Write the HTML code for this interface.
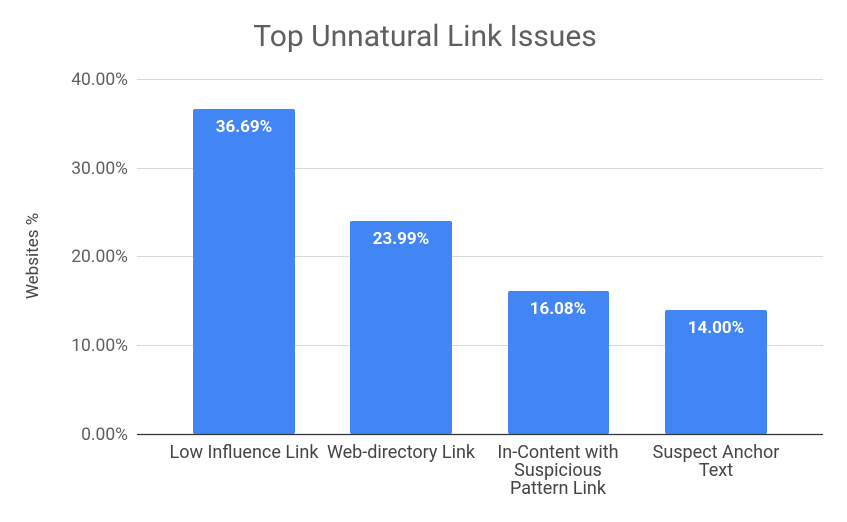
<!DOCTYPE html>
<html><head><meta charset="utf-8"><style>
body{margin:0;background:#fff;}
svg text{font-family:"Roboto","Liberation Sans",sans-serif;}
</style></head><body>
<svg width="847" height="517" xmlns="http://www.w3.org/2000/svg">
<rect width="847" height="517" fill="#fff"/>
<text x="425" y="46" font-size="30" fill="#5f5f5f" text-anchor="middle">Top Unnatural Link Issues</text>
<g stroke="#d9d9d9" stroke-width="1">
<line x1="137" y1="79.5" x2="823" y2="79.5"/>
<line x1="137" y1="168.5" x2="823" y2="168.5"/>
<line x1="137" y1="256.5" x2="823" y2="256.5"/>
<line x1="137" y1="345.5" x2="823" y2="345.5"/>
</g>
<g font-size="17.5" fill="#5f5f5f" text-anchor="end">
<text x="128" y="85">40.00%</text>
<text x="128" y="174">30.00%</text>
<text x="128" y="262">20.00%</text>
<text x="128" y="351">10.00%</text>
<text x="128" y="440">0.00%</text>
</g>
<text transform="translate(38,256) rotate(-90)" font-size="17" fill="#444" text-anchor="middle">Websites %</text>
<g fill="#4285f4">
<rect x="193" y="109" width="102" height="325" rx="2"/>
<rect x="350" y="221" width="102" height="213" rx="2"/>
<rect x="508" y="291" width="101" height="143" rx="2"/>
<rect x="665" y="310" width="102" height="124" rx="2"/>
</g>
<line x1="137" y1="434.5" x2="823" y2="434.5" stroke="#333" stroke-width="1.2"/>
<g font-size="17" fill="#fff" font-weight="bold" text-anchor="middle">
<text x="244" y="132">36.69%</text>
<text x="401" y="244">23.99%</text>
<text x="558" y="314">16.08%</text>
<text x="716" y="333">14.00%</text>
</g>
<g font-size="18" fill="#444" text-anchor="middle">
<text x="244" y="458">Low Influence Link</text>
<text x="401" y="458">Web-directory Link</text>
<text x="558" y="458">In-Content with</text>
<text x="558" y="476">Suspicious</text>
<text x="558" y="494">Pattern Link</text>
<text x="716" y="458">Suspect Anchor</text>
<text x="716" y="476">Text</text>
</g>
</svg>
</body></html>
